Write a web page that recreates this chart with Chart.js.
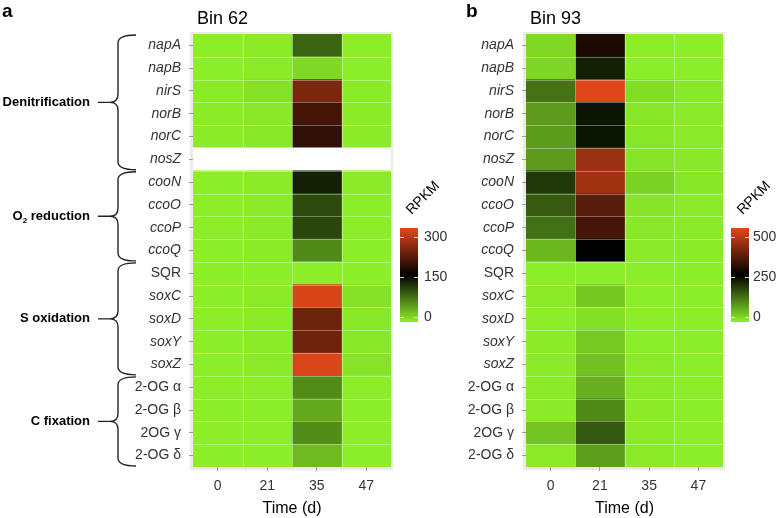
<!DOCTYPE html>
<html><head><meta charset="utf-8">
<script src="https://cdn.jsdelivr.net/npm/chart.js@4/dist/chart.umd.min.js"></script>
<style>
html,body{margin:0;padding:0;background:#fff;}
#wrap{position:relative;width:778px;height:518px;overflow:hidden;}
#cA{position:absolute;left:0;top:0;}
#cB{position:absolute;left:440px;top:0;}
</style></head><body>
<div id="wrap"><canvas id="cA" width="470" height="518"></canvas><canvas id="cB" width="338" height="518"></canvas></div>
<script>
// ---------- data ----------
const genes = ['napA','napB','nirS','norB','norC','nosZ','cooN','ccoO','ccoP','ccoQ','SQR','soxC','soxD','soxY','soxZ','2-OG α','2-OG β','2OG γ','2-OG δ'];
const italicGenes = ['napA','napB','nirS','norB','norC','nosZ','cooN','ccoO','ccoP','ccoQ','soxC','soxD','soxY','soxZ'];
const timeLabels = ['0','21','35','47'];

// Bin 62 (RPKM), null = not present
const bin62Day0  = [2,2,3,3,3,null,2,2,2,2,1,2,2,2,2,2,2,2,2];
const bin62Day21 = [3,3,10,5,5,null,3,3,3,3,1,3,3,3,3,2,2,2,2];
const bin62Day35 = [87,15,231,196,182,null,130,104,106,64,2,293,223,223,295,63,45,62,34];
const bin62Day47 = [2,2,3,3,3,null,3,2,2,2,1,9,5,5,8,2,2,2,2];
const bin62Max = 300;
const bin62Ticks = [0,150,300];

// Bin 93 (RPKM)
const bin93Day0  = [25,27,131,87,87,87,192,156,133,60,3,5,3,4,6,6,6,45,5];
const bin93Day21 = [281,217,497,229,230,420,427,347,327,250,3,42,17,40,50,67,106,158,85];
const bin93Day35 = [3,3,20,10,10,12,33,12,8,6,3,3,3,3,5,5,5,5,5];
const bin93Day47 = [2,3,8,6,6,8,10,5,5,5,3,3,3,3,3,3,3,3,3];
const bin93Max = 500;
const bin93Ticks = [0,250,500];

const groupNames  = ['Denitrification','O2 reduction','S oxidation','C fixation'];
const groupStarts = [0,6,10,15];
const groupEnds   = [5,9,14,18];

// ---------- helpers ----------
const FONT = "'Liberation Sans', Arial, Helvetica, sans-serif";
Chart.defaults.font.family = FONT;
const LOW = [142,240,42], HIGH = [226,72,26];
function heat(v, max){
  if (v === null || v === undefined) return '#ffffff';
  const mid = max/2;
  if (v <= mid){ const t = 1 - v/mid; return `rgb(${Math.round(LOW[0]*t)},${Math.round(LOW[1]*t)},${Math.round(LOW[2]*t)})`; }
  const t = Math.min(1,(v-mid)/mid);
  return `rgb(${Math.round(HIGH[0]*t)},${Math.round(HIGH[1]*t)},${Math.round(HIGH[2]*t)})`;
}

function makeChart(canvas, cols, max, ticks, cfg){
  const datasets = cols.map((vals, j) => ({
    data: genes.map(() => [j, j+1]),
    backgroundColor: vals.map(v => heat(v, max)),
    borderWidth: 0,
    grouped: false,
    barPercentage: 1,
    categoryPercentage: 1
  }));
  const deco = {
    id: 'deco',
    beforeDraw(chart){
      const {ctx, chartArea:a} = chart;
      ctx.save();
      ctx.fillStyle = '#ebebeb';
      ctx.fillRect(a.left-3, a.top-2, a.right-a.left+5, a.bottom-a.top+5);
      ctx.restore();
    },
    afterDatasetsDraw(chart){
      const {ctx, chartArea:a, scales:{x,y}} = chart;
      ctx.save();
      ctx.strokeStyle = 'rgba(255,255,255,0.35)';
      ctx.lineWidth = 1;
      ctx.beginPath();
      for (let i=1;i<genes.length;i++){
        const yy = Math.round((y.getPixelForValue(i-1)+y.getPixelForValue(i))/2)+0.5;
        ctx.moveTo(a.left, yy); ctx.lineTo(a.right, yy);
      }
      for (let j=1;j<timeLabels.length;j++){
        const xx = Math.round(x.getPixelForValue(j))+0.5;
        ctx.moveTo(xx, a.top); ctx.lineTo(xx, a.bottom);
      }
      ctx.stroke();
      ctx.restore();
    },
    afterDraw(chart){
      const {ctx, chartArea:a} = chart;
      ctx.save();
      // panel letter
      ctx.fillStyle = '#000';
      ctx.font = `bold 19px ${FONT}`;
      ctx.textBaseline = 'middle';
      ctx.textAlign = 'left';
      ctx.fillText(cfg.letter, cfg.letterX, 12);
      // title
      ctx.font = `18px ${FONT}`;
      ctx.fillText(cfg.title, a.left+4, 19);
      // colour bar
      const bx = a.right + cfg.barGap, bw = 18, bTop = 228, bBot = 322;
      const g = ctx.createLinearGradient(0, bBot, 0, bTop);
      g.addColorStop(0, heat(0,max));
      g.addColorStop(0.5, '#000');
      g.addColorStop(1, heat(max,max));
      ctx.fillStyle = g;
      ctx.fillRect(bx, bTop, bw, bBot-bTop);
      const yOf = v => 317 - v/max*80;
      ctx.font = `14px ${FONT}`;
      ctx.fillStyle = '#333';
      ctx.strokeStyle = 'rgba(255,255,255,0.8)';
      ctx.lineWidth = 1;
      ticks.forEach(t => {
        const yy = yOf(t);
        ctx.fillText(String(t), bx + bw + cfg.textGap, yy);
        ctx.beginPath();
        ctx.moveTo(bx, Math.round(yy)+0.5); ctx.lineTo(bx+4, Math.round(yy)+0.5);
        ctx.moveTo(bx+bw-4, Math.round(yy)+0.5); ctx.lineTo(bx+bw, Math.round(yy)+0.5);
        ctx.stroke();
      });
      // legend title
      ctx.save();
      ctx.translate(bx + 23, 198);
      ctx.rotate(-Math.PI/4);
      ctx.textAlign = 'center';
      ctx.fillStyle = '#000';
      ctx.font = `14px ${FONT}`;
      ctx.fillText('RPKM', 0, 0);
      ctx.restore();
      // group braces
      if (cfg.groups){
        const y = chart.scales.y;
        const half = (y.getPixelForValue(1)-y.getPixelForValue(0))/2;
        ctx.strokeStyle = '#222';
        ctx.lineWidth = 1.4;
        ctx.fillStyle = '#000';
        groupNames.forEach((name, k) => {
          const y0 = y.getPixelForValue(groupStarts[k]) - half + 1;
          const y1 = y.getPixelForValue(groupEnds[k]) + half - 1;
          const ym = (y0+y1)/2;
          const xr = 136, xm = 118, xt = 110, r = 8;
          ctx.beginPath();
          ctx.moveTo(xr, y0);
          ctx.quadraticCurveTo(xm, y0, xm, y0+r);
          ctx.lineTo(xm, ym-r);
          ctx.quadraticCurveTo(xm, ym, xt, ym);
          ctx.quadraticCurveTo(xm, ym, xm, ym+r);
          ctx.lineTo(xm, y1-r);
          ctx.quadraticCurveTo(xm, y1, xr, y1);
          ctx.moveTo(xt, ym); ctx.lineTo(98, ym);
          ctx.stroke();
          ctx.textAlign = 'right';
          ctx.font = `bold 13px ${FONT}`;
          if (name === 'O2 reduction'){
            const rest = ' reduction';
            const wRest = ctx.measureText(rest).width;
            ctx.fillText(rest, 90, ym);
            ctx.font = `bold 8px ${FONT}`;
            const w2 = ctx.measureText('2').width;
            ctx.fillText('2', 90 - wRest, ym+4);
            ctx.font = `bold 13px ${FONT}`;
            ctx.fillText('O', 90 - wRest - w2, ym);
          } else {
            ctx.fillText(name, 90, ym);
          }
        });
      }
      ctx.restore();
    }
  };
  return new Chart(canvas, {
    type: 'bar',
    data: { labels: genes, datasets },
    options: {
      indexAxis: 'y',
      responsive: false,
      animation: false,
      layout: { padding: { top: 34, bottom: 0, left: 0, right: cfg.padRight } },
      plugins: { legend: {display:false}, tooltip: {enabled:false} },
      scales: {
        x: {
          type: 'linear', min: 0, max: timeLabels.length,
          afterBuildTicks(s){ s.ticks = timeLabels.map((_, j) => ({value: j+0.5})); },
          afterFit(s){ s.height = 51; },
          ticks: { callback: v => timeLabels[Math.floor(v)], color: '#333', font: {size: 14}, padding: 7, maxRotation: 0, autoSkip: false },
          grid: { drawOnChartArea: false, drawTicks: true, tickLength: 4, color: '#999', offset: false },
          border: { display: false },
          title: { display: true, text: 'Time (d)', color: '#000', font: {size: 16}, padding: {top: 0, bottom: 0} }
        },
        y: {
          type: 'category',
          offset: true,
          afterFit(s){ s.width = cfg.yWidth; },
          ticks: {
            color: '#333', padding: 8, autoSkip: false,
            font: c => ({ size: 14, family: FONT, style: italicGenes.includes(genes[c.index]) ? 'italic' : 'normal' })
          },
          grid: { drawOnChartArea: false, drawTicks: true, tickLength: 4, color: '#999', offset: false },
          border: { display: false }
        }
      }
    },
    plugins: [deco]
  });
}

makeChart(document.getElementById('cA'), [bin62Day0, bin62Day21, bin62Day35, bin62Day47], bin62Max, bin62Ticks,
  { letter: 'a', letterX: 2, title: 'Bin 62', yWidth: 193, padRight: 79, barGap: 9, textGap: 6, groups: true });
makeChart(document.getElementById('cB'), [bin93Day0, bin93Day21, bin93Day35, bin93Day47], bin93Max, bin93Ticks,
  { letter: 'b', letterX: 26, title: 'Bin 93', yWidth: 86, padRight: 55, barGap: 8, textGap: 4, groups: false });
</script>
</body></html>
